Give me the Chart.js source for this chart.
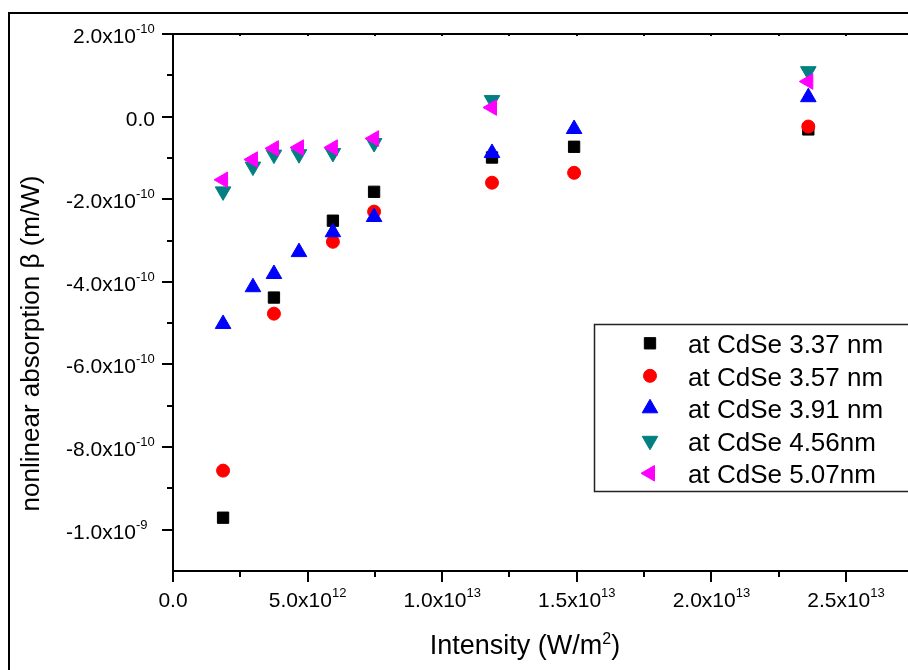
<!DOCTYPE html>
<html>
<head>
<meta charset="utf-8">
<script src="https://cdn.jsdelivr.net/npm/chart.js@4/dist/chart.umd.min.js"></script>
<style>
html, body { margin: 0; padding: 0; background: #fff; overflow: hidden; }
#frame { position: absolute; left: 8px; top: 12px; width: 1000px; height: 720px; border: 2px solid #000; }
#wrap { position: absolute; left: 0; top: 0; width: 940px; height: 670px; }
</style>
</head>
<body>
<div id="frame"></div>
<div id="wrap"><canvas id="c"></canvas></div>
<script>
const FONT = '"Liberation Sans", Arial, Helvetica, sans-serif';

// intensities (W/m^2)
const xShort = [1.86e12, 3.75e12, 5.94e12, 7.47e12, 1.185e13, 1.49e13, 2.36e13];
const xLong = [1.86e12, 2.97e12, 3.75e12, 4.68e12, 5.94e12, 7.47e12, 1.185e13, 1.49e13, 2.36e13];
const xMid = [1.86e12, 2.97e12, 3.75e12, 4.68e12, 5.94e12, 7.47e12, 1.185e13, 2.36e13];

// nonlinear absorption beta (m/W)
const beta337 = [-9.71e-10, -4.38e-10, -2.52e-10, -1.82e-10, -0.99e-10, -0.73e-10, -0.31e-10];
const beta357 = [-8.57e-10, -4.77e-10, -3.03e-10, -2.30e-10, -1.60e-10, -1.36e-10, -0.24e-10];
const beta391 = [-5.02e-10, -4.13e-10, -3.81e-10, -3.28e-10, -2.80e-10, -2.43e-10, -0.88e-10, -0.30e-10, 0.47e-10];
const beta456 = [-1.81e-10, -1.21e-10, -0.92e-10, -0.91e-10, -0.88e-10, -0.64e-10, 0.40e-10, 1.10e-10];
const beta507 = [-1.53e-10, -1.04e-10, -0.77e-10, -0.75e-10, -0.75e-10, -0.53e-10, 0.22e-10, 0.85e-10];

const seriesLabels = ['at CdSe 3.37 nm', 'at CdSe 3.57 nm', 'at CdSe 3.91 nm', 'at CdSe 4.56nm', 'at CdSe 5.07nm'];

const xTickValues = [0, 5e12, 1e13, 1.5e13, 2e13, 2.5e13];
const xTickLabels = ['0.0', '5.0x10^12', '1.0x10^13', '1.5x10^13', '2.0x10^13', '2.5x10^13'];
const yTickValues = [-1e-9, -8e-10, -6e-10, -4e-10, -2e-10, 0, 2e-10];
const yTickLabels = ['-1.0x10^-9', '-8.0x10^-10', '-6.0x10^-10', '-4.0x10^-10', '-2.0x10^-10', '0.0', '2.0x10^-10'];

const pts = (xs, ys) => xs.map((x, i) => ({ x: x, y: ys[i] }));

const styles = [
  { color: '#000000', pointStyle: 'rect', radius: 8, rotation: 0 },
  { color: '#ff0000', pointStyle: 'circle', radius: 6.5, rotation: 0 },
  { color: '#0000ff', pointStyle: 'triangle', radius: 9, rotation: 0 },
  { color: '#008080', pointStyle: 'triangle', radius: 9, rotation: 180 },
  { color: '#ff00ff', pointStyle: 'triangle', radius: 9, rotation: 270 }
];
const seriesData = [pts(xShort, beta337), pts(xShort, beta357), pts(xLong, beta391), pts(xMid, beta456), pts(xMid, beta507)];

const datasets = seriesData.map((d, i) => ({
  label: seriesLabels[i],
  data: d,
  order: 5 - i,
  showLine: false,
  backgroundColor: styles[i].color,
  borderColor: styles[i].color,
  borderWidth: 1,
  pointStyle: styles[i].pointStyle,
  pointRadius: styles[i].radius,
  pointRotation: styles[i].rotation
}));

function drawSup(ctx, text, x, y, align, big, small, raise) {
  const parts = text.split('^');
  ctx.textAlign = 'left';
  ctx.textBaseline = 'alphabetic';
  ctx.font = big + 'px ' + FONT;
  const wb = ctx.measureText(parts[0]).width;
  let ws = 0;
  if (parts[1]) { ctx.font = small + 'px ' + FONT; ws = ctx.measureText(parts[1]).width; }
  let x0;
  if (align === 'center') x0 = x - (wb + ws) / 2;
  else if (align === 'supright') x0 = parts[1] ? x - 19 - wb : x - wb;
  else x0 = x;
  ctx.font = big + 'px ' + FONT;
  ctx.fillText(parts[0], x0, y);
  if (parts[1]) { ctx.font = small + 'px ' + FONT; ctx.fillText(parts[1], x0 + wb, y - raise); }
  return x0 + wb + ws;
}

const decor = {
  id: 'decor',
  afterDraw(chart) {
    const ctx = chart.ctx;
    const xs = chart.scales.x, ys = chart.scales.y;
    const a = chart.chartArea;
    ctx.save();
    ctx.strokeStyle = '#000';
    ctx.fillStyle = '#000';
    ctx.lineWidth = 2;
    // top and right axis lines
    ctx.beginPath();
    ctx.moveTo(a.left, a.top); ctx.lineTo(a.right, a.top);
    ctx.moveTo(a.right, a.top); ctx.lineTo(a.right, a.bottom);
    ctx.stroke();
    // minor ticks
    const xMinor = [];
    for (let i = 0; i < xTickValues.length; i++) {
      const step = xTickValues[1] - xTickValues[0];
      xMinor.push(xTickValues[i] + step / 2);
    }
    const yMinor = [];
    for (let i = 0; i < yTickValues.length - 1; i++) yMinor.push((yTickValues[i] + yTickValues[i + 1]) / 2);
    ctx.beginPath();
    xMinor.forEach(v => {
      const p = Math.round(xs.getPixelForValue(v));
      if (p > a.right) return;
      ctx.moveTo(p, a.bottom); ctx.lineTo(p, a.bottom + 6);
    });
    yMinor.forEach(v => {
      const p = Math.round(ys.getPixelForValue(v));
      ctx.moveTo(a.left - 6, p); ctx.lineTo(a.left, p);
    });
    // small ticks on top axis
    xTickValues.concat(xMinor).forEach(v => {
      const p = Math.round(xs.getPixelForValue(v));
      if (p > a.right) return;
      ctx.moveTo(p, a.top); ctx.lineTo(p, a.top + 2);
    });
    ctx.stroke();

    // tick labels
    xTickValues.forEach((v, i) => {
      drawSup(ctx, xTickLabels[i], xs.getPixelForValue(v), a.bottom + 36, 'center', 21, 13, 10);
    });
    yTickValues.forEach((v, i) => {
      drawSup(ctx, yTickLabels[i], a.left - 18, ys.getPixelForValue(v) + 9, 'supright', 21, 13, 10);
    });

    // axis titles
    ctx.font = '27px ' + FONT;
    const t1 = 'Intensity (W/m', t2 = '2', t3 = ')';
    const w1 = ctx.measureText(t1).width, w3 = ctx.measureText(t3).width;
    ctx.font = '16px ' + FONT;
    const w2 = ctx.measureText(t2).width;
    let tx = 525 - (w1 + w2 + w3) / 2;
    ctx.textAlign = 'left';
    ctx.font = '27px ' + FONT; ctx.fillText(t1, tx, 654);
    ctx.font = '16px ' + FONT; ctx.fillText(t2, tx + w1, 644);
    ctx.font = '27px ' + FONT; ctx.fillText(t3, tx + w1 + w2, 654);

    ctx.save();
    ctx.translate(38.5, 343.5);
    ctx.rotate(-Math.PI / 2);
    ctx.font = '26px ' + FONT;
    ctx.textAlign = 'center';
    ctx.textBaseline = 'alphabetic';
    ctx.fillText('nonlinear absorption \u03B2 (m/W)', 0, 0);
    ctx.restore();

    // legend box
    ctx.lineWidth = 1.5;
    ctx.strokeStyle = '#222';
    ctx.strokeRect(594.5, 324.5, 360, 167);
    seriesLabels.forEach((lab, i) => {
      const cy = 343.3 + i * 32.5;
      const st = styles[i];
      ctx.fillStyle = st.color;
      ctx.strokeStyle = st.color;
      ctx.lineWidth = 1;
      Chart.helpers.drawPoint(ctx, { pointStyle: st.pointStyle, radius: st.radius, rotation: st.rotation, borderWidth: 1 }, 650, cy);
      ctx.fillStyle = '#000';
      ctx.font = '26px ' + FONT;
      ctx.textAlign = 'left';
      ctx.textBaseline = 'alphabetic';
      ctx.fillText(lab, 688, cy + 10);
    });
    ctx.restore();
  }
};

new Chart(document.getElementById('c'), {
  type: 'scatter',
  data: { datasets: datasets },
  options: {
    responsive: true,
    maintainAspectRatio: false,
    animation: false,
    events: [],
    layout: { padding: { left: 162, top: 34, right: 26.7, bottom: 88 } },
    plugins: { legend: { display: false }, tooltip: { enabled: false } },
    scales: {
      x: {
        type: 'linear',
        min: 0,
        max: 2.75e13,
        afterBuildTicks: s => { s.ticks = xTickValues.map(v => ({ value: v })); },
        ticks: { display: false },
        grid: { drawOnChartArea: false, drawTicks: true, tickLength: 11, color: '#000', lineWidth: 2 },
        border: { display: true, color: '#000', width: 2 }
      },
      y: {
        type: 'linear',
        min: -1.1e-9,
        max: 2e-10,
        afterBuildTicks: s => { s.ticks = yTickValues.map(v => ({ value: v })); },
        ticks: { display: false },
        grid: { drawOnChartArea: false, drawTicks: true, tickLength: 11, color: '#000', lineWidth: 2 },
        border: { display: true, color: '#000', width: 2 }
      }
    }
  },
  plugins: [decor]
});
</script>
</body>
</html>
